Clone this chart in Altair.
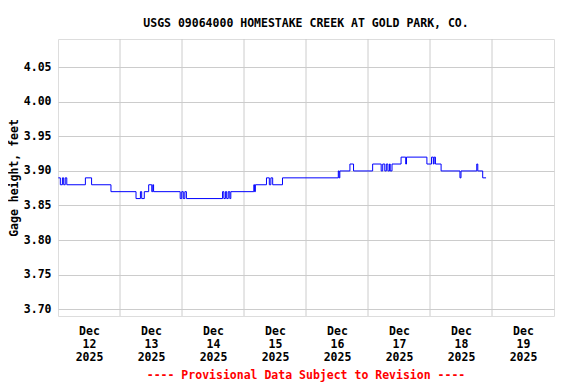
import altair as alt
import pandas as pd

# Change points of the gage-height record (hours after 2025-12-12 00:00, value in feet)
hours = [0.12, 0.9, 1.7, 2.2, 2.8, 3.4, 10.6, 13.0, 20.5, 30.2, 31.9, 32.4, 33.4, 35.1,
         36.3, 36.7, 37.0, 47.3, 47.9, 48.5, 49.1, 49.7, 63.7, 64.2, 64.8, 65.3, 65.9,
         66.5, 66.9, 75.8, 76.1, 76.4, 80.7, 81.8, 82.4, 83.1, 86.9, 108.5, 108.8, 109.1,
         113.0, 114.4, 121.8, 125.1, 125.7, 126.5, 127.1, 127.7, 128.3, 128.6, 129.3,
         132.8, 134.6, 134.9, 142.8, 144.6, 145.3, 145.6, 146.1, 148.3, 155.6, 156.0,
         162.1, 162.5, 164.4, 165.7]
gage = [3.89, 3.88, 3.89, 3.88, 3.89, 3.88, 3.89, 3.88, 3.87, 3.86, 3.87, 3.86, 3.87, 3.88,
        3.87, 3.88, 3.87, 3.86, 3.87, 3.86, 3.87, 3.86, 3.87, 3.86, 3.87, 3.86, 3.87,
        3.86, 3.87, 3.88, 3.87, 3.88, 3.89, 3.88, 3.89, 3.88, 3.89, 3.90, 3.89, 3.90,
        3.91, 3.90, 3.91, 3.90, 3.91, 3.90, 3.91, 3.90, 3.91, 3.90, 3.91,
        3.92, 3.91, 3.92, 3.91, 3.92, 3.91, 3.92, 3.91, 3.90, 3.89, 3.90,
        3.91, 3.90, 3.89, 3.89]

day_lines = ["2025-12-13", "2025-12-14", "2025-12-15", "2025-12-16",
             "2025-12-17", "2025-12-18", "2025-12-19"]
label_days = ["2025-12-12", "2025-12-13", "2025-12-14", "2025-12-15",
              "2025-12-16", "2025-12-17", "2025-12-18", "2025-12-19"]
y_ticks = [3.70, 3.75, 3.80, 3.85, 3.90, 3.95, 4.00, 4.05]

title = "USGS 09064000 HOMESTAKE CREEK AT GOLD PARK, CO."
footer = "---- Provisional Data Subject to Revision ----"

start = pd.Timestamp("2025-12-12T00:00:00Z")
df = pd.DataFrame({
    "t": [(start + pd.Timedelta(hours=h)).strftime("%Y-%m-%dT%H:%M:%SZ") for h in hours],
    "v": gage,
})
grid_df = pd.DataFrame({"t": [d + "T00:00:00Z" for d in day_lines]})
# label positions at noon, as epoch milliseconds
label_ms = [int((pd.Timestamp(d + "T12:00:00Z")).value // 10**6) for d in label_days]

FONT = "DejaVu Sans Mono"
xscale = alt.Scale(type="utc", domain=["2025-12-12T00:00:00Z", "2025-12-20T00:00:00Z"])
yscale = alt.Scale(domain=[3.69, 4.091], nice=False, zero=False)

xaxis = alt.Axis(values=label_ms, grid=False, ticks=False, domain=False,
                 labelExpr="[utcFormat(datum.value, '%b'), utcFormat(datum.value, '%d'), utcFormat(datum.value, '%Y')]",
                 labelFont=FONT, labelFontSize=11.5, labelFontWeight="bold",
                 labelColor="black", labelPadding=9, labelLineHeight=13,
                 labelBaseline="top", labelFlush=False, labelOverlap=False)

grid = alt.Chart(grid_df).mark_rule(color="#cccccc", strokeWidth=1).encode(
    x=alt.X("t:T", scale=xscale, title=None, axis=xaxis)
)

line = alt.Chart(df).mark_line(interpolate="step-after", color="#0000ff", strokeWidth=1).encode(
    x=alt.X("t:T", scale=xscale, title=None, axis=xaxis),
    y=alt.Y("v:Q", scale=yscale, title="Gage height, feet",
            axis=alt.Axis(values=y_ticks, format=".2f", grid=True, gridColor="#cccccc",
                          ticks=False, domain=False, labelFont=FONT, labelFontSize=11.5,
                          labelFontWeight="bold", labelColor="black", labelPadding=7,
                          titleFont=FONT, titleFontSize=11.5, titleFontWeight="bold",
                          titleColor="black", titlePadding=4)),
)

foot = alt.Chart(pd.DataFrame({"s": [footer]})).mark_text(
    color="red", font=FONT, fontSize=11.5, fontWeight="bold", baseline="middle", align="center"
).encode(text="s:N", x=alt.value(248), y=alt.value(337))

chart = alt.layer(grid, line, foot).properties(
    width=496, height=277,
    title=alt.TitleParams(title, font=FONT, fontSize=11.5, fontWeight="bold", color="black",
                          anchor="middle", offset=9),
    autosize=alt.AutoSizeParams(type="none"),
    padding={"left": 50, "top": 31, "right": 10, "bottom": 70},
).configure_view(stroke="black", strokeWidth=1).configure(background="white")

chart.save("out.html", embed_options={"renderer": "svg", "actions": False})
